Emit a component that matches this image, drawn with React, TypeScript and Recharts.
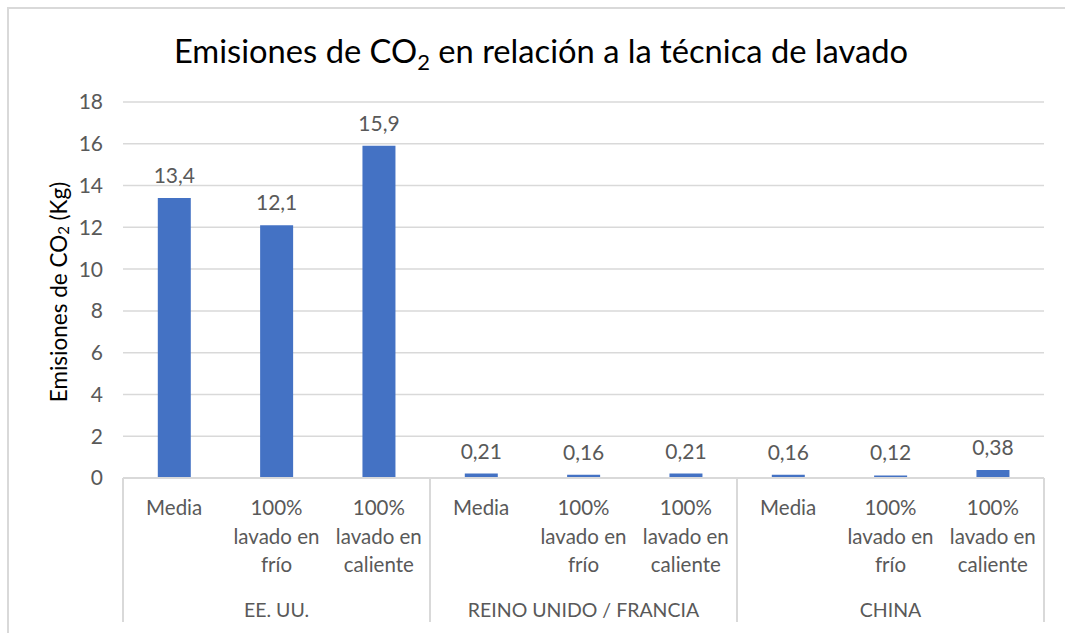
import React from 'react';
import { BarChart, Bar, XAxis, YAxis, CartesianGrid, LabelList } from 'recharts';

const groups = ['EE. UU.', 'REINO UNIDO / FRANCIA', 'CHINA'];
const subLabels = ['Media', '100%\nlavado en\nfrío', '100%\nlavado en\ncaliente'];
const values = [13.4, 12.1, 15.9, 0.21, 0.16, 0.21, 0.16, 0.12, 0.38];
const yTicks = [0, 2, 4, 6, 8, 10, 12, 14, 16, 18];

const data = values.map((value, i) => ({
  key: `c${i}`,
  group: groups[Math.floor(i / 3)],
  sub: subLabels[i % 3],
  value,
}));

const FONT = 'Lato, "Liberation Sans", sans-serif';
const GREY = '#595959';
const LINE = '#d9d9d9';

function CategoryTick(props: any) {
  const { x, y, payload, index } = props;
  const d = data[index];
  const half = payload && payload.offset ? payload.offset : 51;
  const lines = d.sub.split('\n');
  return (
    <g>
      {lines.map((t: string, i: number) => (
        <text key={i} x={x} y={y + 37 + i * 28.5} textAnchor="middle" fill={GREY} fontSize={20.5} fontFamily={FONT}>
          {t}
        </text>
      ))}
      {index % 3 === 1 && (
        <text x={x} y={y + 139} textAnchor="middle" fill={GREY} fontSize={19.5} fontFamily={FONT}>
          {d.group}
        </text>
      )}
      {index % 3 === 0 && <line x1={x - half} x2={x - half} y1={y} y2={y + 144} stroke={LINE} strokeWidth={2} />}
      {index === data.length - 1 && <line x1={x + half} x2={x + half} y1={y} y2={y + 144} stroke={LINE} strokeWidth={2} />}
    </g>
  );
}

function YLabel(props: any) {
  const { viewBox } = props;
  const cx = viewBox.x + 58;
  const cy = viewBox.y + viewBox.height / 2 + 2;
  return (
    <text x={cx} y={cy} transform={`rotate(-90 ${cx} ${cy})`} textAnchor="middle" dominantBaseline="central" fill="#000" fontSize={22.5} fontFamily={FONT}>
      Emisiones de CO<tspan fontSize={15} dy={5}>2</tspan>
      <tspan dy={-5}> (Kg)</tspan>
    </text>
  );
}

export default function App() {
  return (
    <div style={{ position: 'absolute', left: 0, top: 0, width: 1065, height: 633, overflow: 'hidden', background: '#fff' }}>
      <div style={{ position: 'absolute', left: 7, top: 7, width: 1100, height: 700, border: `2px solid ${LINE}`, boxSizing: 'border-box' }} />
      <div style={{ position: 'absolute', left: 0, top: 31, width: 1082, textAlign: 'center', fontFamily: FONT, fontSize: 32.7, color: '#000', whiteSpace: 'nowrap' }}>
        Emisiones de CO<sub style={{ fontSize: 22, verticalAlign: -7 }}>2</sub> en relación a la técnica de lavado
      </div>
      <div style={{ position: 'absolute', left: 0, top: 0 }}>
        <BarChart width={1065} height={633} data={data} margin={{ top: 102, right: 21, bottom: 10, left: 0 }} barCategoryGap="34%">
          <CartesianGrid vertical={false} stroke={LINE} strokeWidth={1.5} />
          <XAxis
            dataKey="key"
            interval={0}
            height={145}
            tickSize={0}
            tickMargin={0}
            tickLine={false}
            axisLine={{ stroke: LINE, strokeWidth: 2 }}
            tick={<CategoryTick />}
          />
          <YAxis
            width={123}
            domain={[0, 18]}
            ticks={yTicks}
            interval={0}
            axisLine={false}
            tickLine={false}
            tickSize={0}
            tickMargin={20}
            tick={{ fill: GREY, fontSize: 21, fontFamily: FONT }}
            label={<YLabel />}
          />
          <Bar dataKey="value" fill="#4472c4" isAnimationActive={false}>
            <LabelList
              dataKey="value"
              position="top"
              offset={15}
              fill={GREY}
              fontSize={21}
              fontFamily={FONT}
              formatter={(v: any) => String(v).replace('.', ',')}
            />
          </Bar>
        </BarChart>
      </div>
    </div>
  );
}
